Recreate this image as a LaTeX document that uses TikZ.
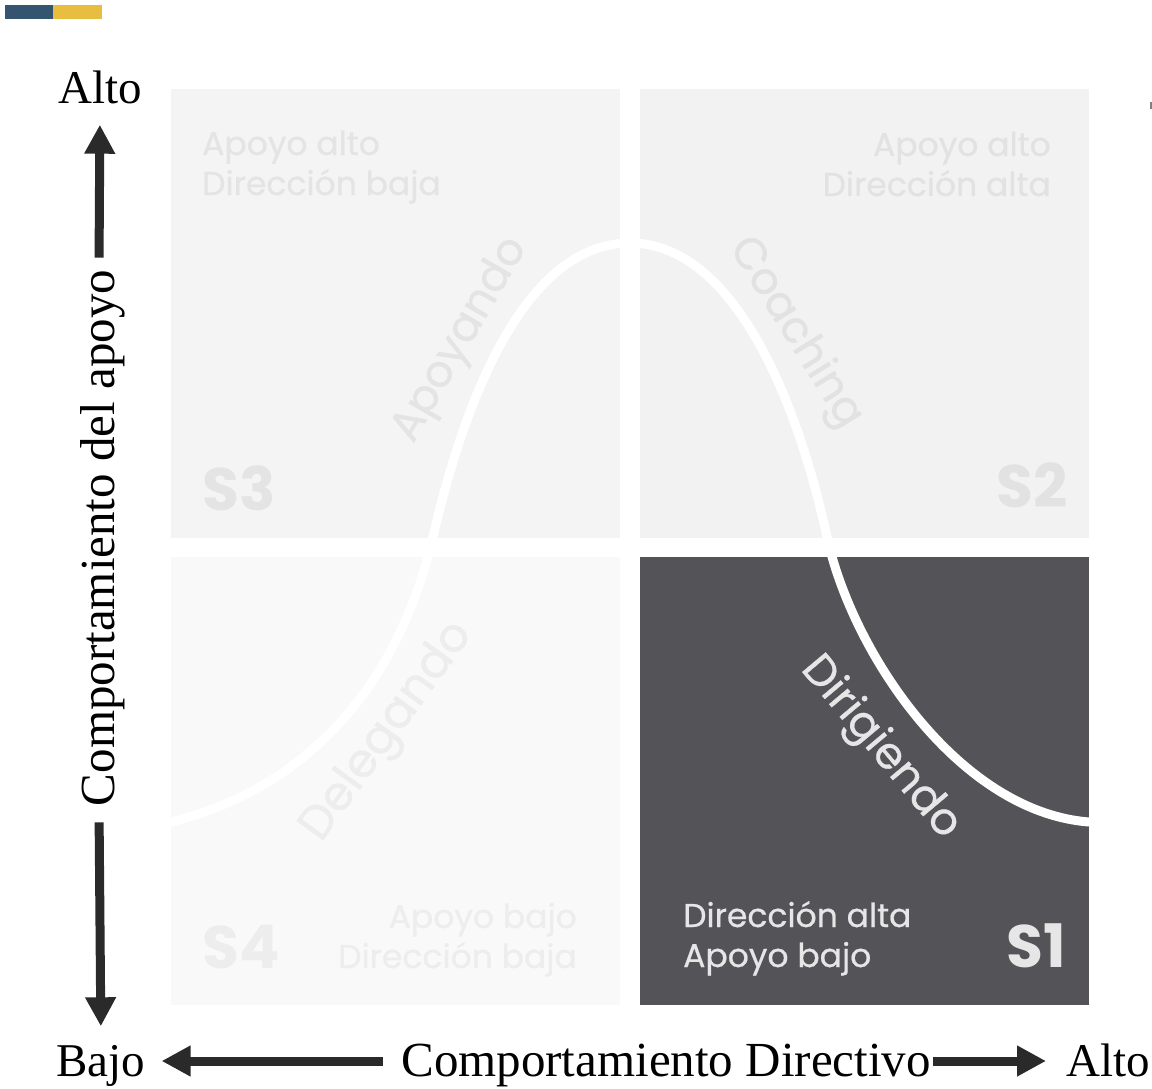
\documentclass[tikz,border=0pt]{standalone}
\usepackage{fontspec}
\setmainfont{Liberation Serif}
\newfontfamily\quadfont{Poppins}
\newfontfamily\quadmed{Poppins}[FakeBold=0.6]
\usepackage{tikz}
\usetikzlibrary{arrows.meta}

\definecolor{barblue}{RGB}{52,84,112}
\definecolor{baryellow}{RGB}{232,190,64}
\definecolor{arrowgray}{RGB}{42,42,42}
\definecolor{sthreebg}{RGB}{244,244,244}
\definecolor{stwobg}{RGB}{242,242,242}
\definecolor{sfourbg}{RGB}{249,249,249}
\definecolor{sonebg}{RGB}{84,83,88}
\definecolor{sthreetxt}{RGB}{228,228,228}
\definecolor{stwotxt}{RGB}{226,226,226}
\definecolor{sfourtxt}{RGB}{237,237,237}
\definecolor{sonetxt}{RGB}{230,230,230}

\tikzset{
  axislabel/.style={font=\fontsize{47}{50}\selectfont, inner sep=0pt,
    text height=31pt, text depth=0pt},
  longlabel/.style={axislabel, font=\fontsize{49}{50}\selectfont},
  axisarrow/.style={line width=9pt, arrowgray,
    -{Triangle[width=29pt,length=29pt]}},
  quadtext/.style={font=\quadmed\fontsize{33}{40}\selectfont, inner sep=0pt},
  quadname/.style={font=\quadfont\bfseries\fontsize{60}{60}\selectfont, inner sep=0pt},
  stylename/.style={font=\quadmed\fontsize{44}{44}\selectfont, inner sep=0pt},
  bellcurve/.style={line width=9pt, white, line cap=round}
}

\begin{document}
\begin{tikzpicture}[x=1pt,y=-1pt]
  \useasboundingbox (0,0) rectangle (1152,1089);

  % little bar top left
  \fill[barblue] (5,5) rectangle (53,19);
  \fill[baryellow] (53,5) rectangle (102,19);
  \fill[gray] (1150,102) rectangle (1152,109);

  % quadrants
  \fill[sthreebg] (171,89) rectangle (620,538);
  \fill[stwobg] (640,89) rectangle (1089,538);
  \fill[sfourbg] (171,557) rectangle (620,1005);
  \fill[sonebg] (640,557) rectangle (1089,1005);

  % curve
  \draw[bellcurve] (171,822) .. controls (300,790) and (396,694) .. (433,537)
    .. controls (468,385) and (530,243) .. (630,243)
    .. controls (730,243) and (795,390) .. (827,537)
    .. controls (853,655) and (960,812) .. (1089,822);

  % S3
  \node[quadtext, text=sthreetxt, align=left, anchor=base west] (s3txt) at (202,195) {Apoyo alto\\Dirección baja};
  \node[stylename, text=sthreetxt, rotate=60] (apoyando) at (461,340) {Apoyando};
  \node[quadname, text=sthreetxt, anchor=base west] (s3) at (202,510) {S3};
  % S2
  \node[quadtext, text=stwotxt, align=right, anchor=base east] (s2txt) at (1051,196) {Apoyo alto\\Dirección alta};
  \node[stylename, text=stwotxt, rotate=-58] (coaching) at (795,333) {Coaching};
  \node[quadname, text=stwotxt, anchor=base east] (s2) at (1068,507) {S2};
  % S4
  \node[quadtext, text=sfourtxt, align=right, anchor=base east] (s4txt) at (577,968) {Apoyo bajo\\Dirección baja};
  \node[stylename, text=sfourtxt, rotate=54, font=\quadmed\fontsize{47}{47}\selectfont] (delegando) at (388,732) {Delegando};
  \node[quadname, text=sfourtxt, anchor=base west] (s4) at (202,968) {S4};
  % S1
  \node[quadtext, text=sonetxt, align=left, anchor=base west] (s1txt) at (683,967) {Dirección alta\\Apoyo bajo};
  \node[stylename, text=sonetxt, rotate=-50] (dirigiendo) at (880,748) {Dirigiendo};
  \node[quadname, text=sonetxt, anchor=base east] (s1) at (1066,967) {S1};

  % axes
  \node[axislabel] (yhi) at (100,88) {Alto};
  \node[longlabel, rotate=90] (ylab) at (99,538) {Comportamiento del apoyo};
  \node[axislabel] (xlo) at (101,1061) {Bajo};
  \node[longlabel] (xlab) at (666,1061) {Comportamiento Directivo};
  \node[axislabel] (xhi) at (1108,1061) {Alto};

  \draw[axisarrow, shorten <=12pt, shorten >=21pt] (ylab.east) -- (yhi.south);
  \draw[axisarrow, shorten <=16pt, shorten >=19pt] (ylab.west) -- (xlo.north);
  \draw[axisarrow, shorten <=18pt, shorten >=16pt] (xlab.west) -- (xlo.east);
  \draw[axisarrow, shorten <=2pt, shorten >=20pt] (xlab.east) -- (xhi.west);
\end{tikzpicture}
\end{document}
